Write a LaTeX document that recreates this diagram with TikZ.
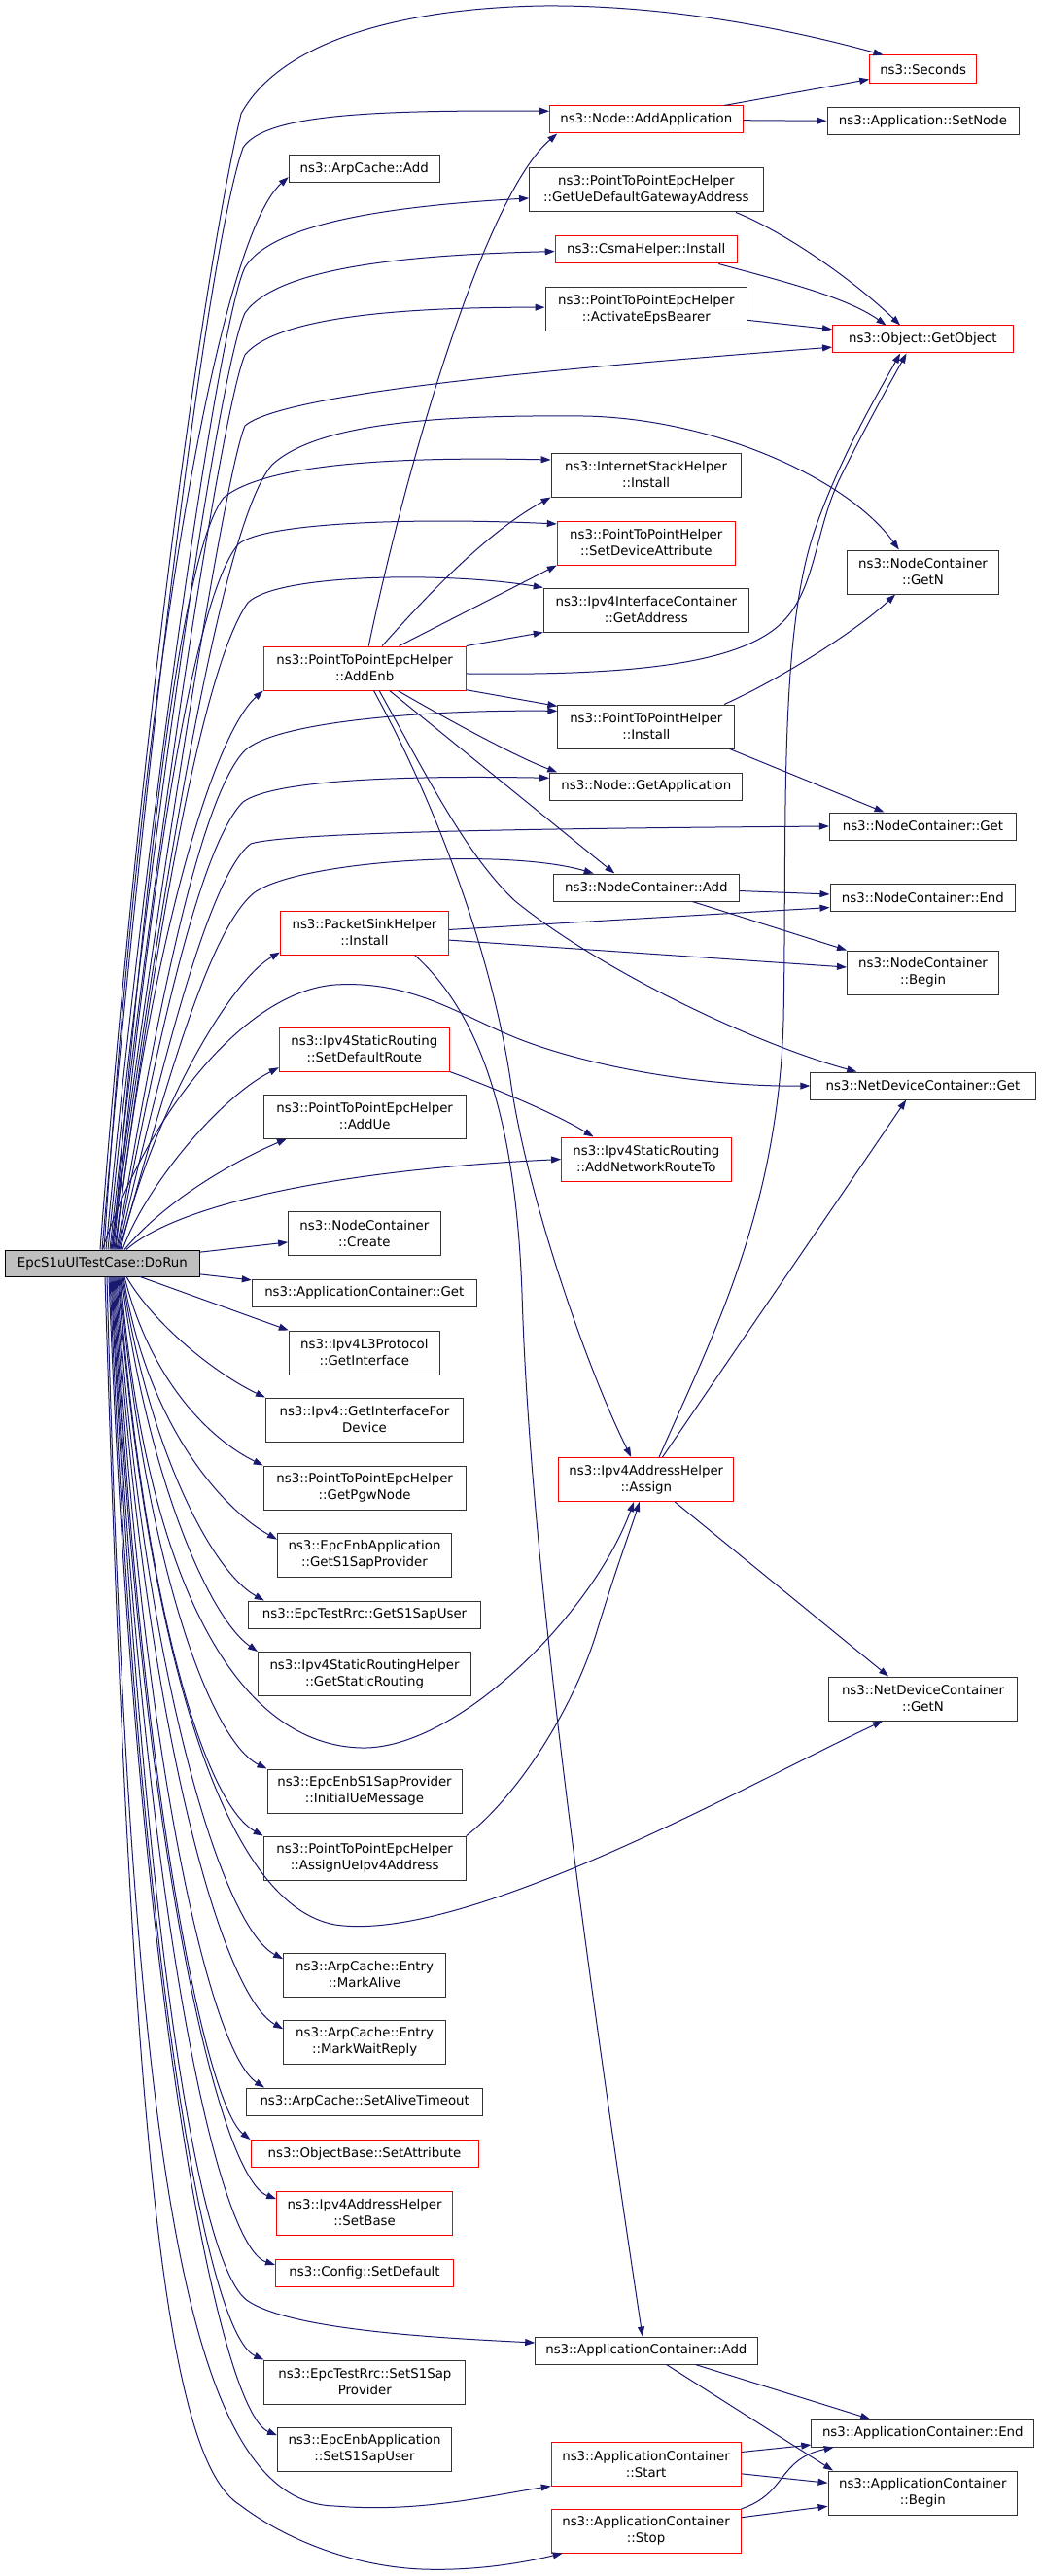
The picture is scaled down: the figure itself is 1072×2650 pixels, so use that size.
\documentclass[tikz,border=0pt]{standalone}
\usepackage{fontspec}
\setmainfont{DejaVu Sans}
\usetikzlibrary{arrows.meta}
\newdimen\pxu \pxu=0.75pt
\definecolor{edgeblue}{HTML}{191970}
\definecolor{rootgray}{HTML}{BFBFBF}
\tikzset{
	fn/.style={draw=black!80, fill=white, line width=0.75pt, minimum height=28\pxu, inner sep=0pt, align=center, font=\fontsize{10}{12.75}\selectfont},
	fntwo/.style={fn, minimum height=45\pxu},
	cut/.style={draw=red},
	call/.style={draw=edgeblue, line width=0.75pt, -{Triangle[length=7.5pt,width=5.2pt]}}
}
\begin{document}
\begin{tikzpicture}[x=0.75pt,y=-0.75pt]
			%%%%% START %%%%%
			\useasboundingbox (0,0) rectangle (1072,2650);
			\fill[white] (0,0) rectangle (1072,2650);
			
			\node[fn, fill=rootgray, draw=black, minimum width=200\pxu, minimum height=27\pxu] (root) at (105.4,1299.5) {EpcS1uUlTestCase::DoRun};
			
			% second column
			\node[fn, minimum width=155\pxu] (arpAdd) at (374.7,174) {ns3::ArpCache::Add};
			\node[fntwo, cut, minimum width=208\pxu] (addEnb) at (375.2,687.5) {ns3::PointToPointEpcHelper\\::AddEnb};
			\node[fntwo, cut, minimum width=173\pxu] (pktSink) at (375,959.5) {ns3::PacketSinkHelper\\::Install};
			\node[fntwo, cut, minimum width=175\pxu] (sdr) at (374.8,1079.5) {ns3::Ipv4StaticRouting\\::SetDefaultRoute};
			\node[fntwo, minimum width=208\pxu] (addUe) at (375.2,1148.5) {ns3::PointToPointEpcHelper\\::AddUe};
			\node[fntwo, minimum width=156.5\pxu] (create) at (374.85,1269) {ns3::NodeContainer\\::Create};
			\node[fn, minimum width=231\pxu] (appGet) at (374.8,1330) {ns3::ApplicationContainer::Get};
			\node[fntwo, minimum width=155\pxu] (getIf) at (374.8,1391.5) {ns3::Ipv4L3Protocol\\::GetInterface};
			\node[fntwo, minimum width=203\pxu] (getIfDev) at (375,1460.5) {ns3::Ipv4::GetInterfaceFor\\Device};
			\node[fntwo, minimum width=208\pxu] (getPgw) at (375.2,1530.5) {ns3::PointToPointEpcHelper\\::GetPgwNode};
			\node[fntwo, minimum width=179\pxu] (getSapProv) at (375,1599.5) {ns3::EpcEnbApplication\\::GetS1SapProvider};
			\node[fn, minimum width=239\pxu] (getSapUser) at (375,1661) {ns3::EpcTestRrc::GetS1SapUser};
			\node[fntwo, minimum width=219\pxu] (getStatic) at (375,1722) {ns3::Ipv4StaticRoutingHelper\\::GetStaticRouting};
			\node[fntwo, minimum width=200\pxu] (initUe) at (375,1842.5) {ns3::EpcEnbS1SapProvider\\::InitialUeMessage};
			\node[fntwo, minimum width=208\pxu] (assignUe) at (375.2,1911.5) {ns3::PointToPointEpcHelper\\::AssignUeIpv4Address};
			\node[fntwo, minimum width=167\pxu] (markAlive) at (375.15,2031.5) {ns3::ArpCache::Entry\\::MarkAlive};
			\node[fntwo, minimum width=167\pxu] (markWait) at (375.15,2100.5) {ns3::ArpCache::Entry\\::MarkWaitReply};
			\node[fn, minimum width=243\pxu] (aliveTo) at (375.2,2162) {ns3::ArpCache::SetAliveTimeout};
			\node[fn, cut, minimum width=234\pxu] (setAttr) at (375,2215.5) {ns3::ObjectBase::SetAttribute};
			\node[fntwo, cut, minimum width=181\pxu] (setBase) at (375.15,2276.5) {ns3::Ipv4AddressHelper\\::SetBase};
			\node[fn, cut, minimum width=183\pxu] (setDef) at (375,2338) {ns3::Config::SetDefault};
			\node[fntwo, minimum width=207\pxu] (setSapProv) at (375.35,2450.5) {ns3::EpcTestRrc::SetS1Sap\\Provider};
			\node[fntwo, minimum width=179\pxu] (setSapUser) at (375,2519.5) {ns3::EpcEnbApplication\\::SetS1SapUser};
			
			% third column
			\node[fn, cut, minimum width=198.5\pxu] (addApp) at (664.8,123) {ns3::Node::AddApplication};
			\node[fntwo, minimum width=240.5\pxu] (ueGw) at (664.8,195.5) {ns3::PointToPointEpcHelper\\::GetUeDefaultGatewayAddress};
			\node[fn, cut, minimum width=187\pxu] (csma) at (664.7,257) {ns3::CsmaHelper::Install};
			\node[fntwo, minimum width=207.6\pxu] (activate) at (664.8,318) {ns3::PointToPointEpcHelper\\::ActivateEpsBearer};
			\node[fntwo, minimum width=195\pxu] (ish) at (664.6,488.5) {ns3::InternetStackHelper\\::Install};
			\node[fntwo, cut, minimum width=183\pxu] (setDev) at (664.8,558.5) {ns3::PointToPointHelper\\::SetDeviceAttribute};
			\node[fntwo, minimum width=211\pxu] (getAddr) at (664.8,627.5) {ns3::Ipv4InterfaceContainer\\::GetAddress};
			\node[fntwo, minimum width=182\pxu] (p2pInst) at (664.85,747.5) {ns3::PointToPointHelper\\::Install};
			\node[fn, minimum width=198.3\pxu] (getApp) at (664.8,809) {ns3::Node::GetApplication};
			\node[fn, minimum width=190.3\pxu] (ncAdd) at (664.85,913) {ns3::NodeContainer::Add};
			\node[fntwo, cut, minimum width=174.4\pxu] (arnt) at (664.8,1192.5) {ns3::Ipv4StaticRouting\\::AddNetworkRouteTo};
			\node[fntwo, cut, minimum width=180\pxu] (assign) at (664.8,1522) {ns3::Ipv4AddressHelper\\::Assign};
			\node[fn, minimum width=228.3\pxu] (appAdd) at (664.85,2418) {ns3::ApplicationContainer::Add};
			\node[fntwo, cut, minimum width=194.8\pxu] (appStart) at (664.6,2534.5) {ns3::ApplicationContainer\\::Start};
			\node[fntwo, cut, minimum width=194.8\pxu] (appStop) at (664.6,2603.5) {ns3::ApplicationContainer\\::Stop};
			
			% fourth column
			\node[fn, cut, minimum width=110\pxu, minimum height=29\pxu] (seconds) at (949.7,71.5) {ns3::Seconds};
			\node[fn, minimum width=197\pxu] (setNode) at (949.5,125) {ns3::Application::SetNode};
			\node[fn, cut, minimum width=185.5\pxu] (getObj) at (949.3,349) {ns3::Object::GetObject};
			\node[fntwo, minimum width=156\pxu] (ncGetN) at (949.5,588.5) {ns3::NodeContainer\\::GetN};
			\node[fn, minimum width=192\pxu] (ncGet) at (949.45,850) {ns3::NodeContainer::Get};
			\node[fn, minimum width=190.8\pxu] (ncEnd) at (949.4,923.5) {ns3::NodeContainer::End};
			\node[fntwo, minimum width=156\pxu] (ncBegin) at (949.5,1000.5) {ns3::NodeContainer\\::Begin};
			\node[fn, minimum width=231.4\pxu] (ndcGet) at (949.5,1117) {ns3::NetDeviceContainer::Get};
			\node[fntwo, minimum width=194\pxu] (ndcGetN) at (949.5,1747.5) {ns3::NetDeviceContainer\\::GetN};
			\node[fn, minimum width=229\pxu] (appEnd) at (949.3,2503) {ns3::ApplicationContainer::End};
			\node[fntwo, minimum width=194.6\pxu] (appBegin) at (949.3,2564.5) {ns3::ApplicationContainer\\::Begin};
			
			% calls of DoRun, upwards
			\draw[call] ([xshift=-2.4\pxu]root.north) .. controls (140,800) and (205,300) .. (248,117) .. controls (290,40) and (420,8) .. (560,6) .. controls (700,5) and (830,35) .. (seconds.160);
			\draw[call] ([xshift=-0.4\pxu]root.north) .. controls (145,820) and (212,260) .. (250,152) .. controls (272,118) and (380,113) .. (addApp.175);
			\draw[call] ([xshift=1.6\pxu]root.north) .. controls (145,700) and (225,245) .. (arpAdd.186);
			\draw[call] ([xshift=3.6\pxu]root.north) .. controls (150,850) and (225,330) .. (252,275) .. controls (280,230) and (400,212) .. (ueGw.184);
			\draw[call] ([xshift=5.6\pxu]root.north) .. controls (152,880) and (225,380) .. (252,322) .. controls (285,275) and (420,262) .. (csma.181);
			\draw[call] ([xshift=7.6\pxu]root.north) .. controls (155,900) and (228,420) .. (252,365) .. controls (285,325) and (420,316) .. (activate.179);
			\draw[call] ([xshift=8.6\pxu]root.north) .. controls (158,950) and (230,490) .. (252,438) .. controls (290,405) and (560,380) .. (getObj.185);
			\draw[call] ([xshift=9.6\pxu]root.north) .. controls (160,960) and (225,540) .. (280,478) .. controls (330,432) and (470,427) .. (600,428) .. controls (730,430) and (870,490) .. (ncGetN.137);
			\draw[call] ([xshift=10.6\pxu]root.north) .. controls (150,900) and (185,570) .. (230,512) .. controls (275,475) and (420,470) .. (ish.171);
			\draw[call] ([xshift=11.6\pxu]root.north) .. controls (150,950) and (195,620) .. (245,560) .. controls (270,538) and (420,532) .. (setDev.168);
			\draw[call] ([xshift=12.6\pxu]root.north) .. controls (155,1000) and (205,690) .. (255,620) .. controls (285,590) and (460,588) .. (getAddr.north west);
			\draw[call] ([xshift=13.6\pxu]root.north) .. controls (150,1000) and (215,760) .. (addEnb.south west);
			\draw[call] ([xshift=14.6\pxu]root.north) .. controls (160,1050) and (205,820) .. (252,772) .. controls (285,742) and (440,730) .. (p2pInst.170);
			\draw[call] ([xshift=15.6\pxu]root.north) .. controls (160,1080) and (205,870) .. (250,825) .. controls (285,800) and (440,798) .. (getApp.175);
			\draw[call] ([xshift=16.6\pxu]root.north) .. controls (165,1100) and (215,900) .. (258,868) .. controls (300,855) and (600,852) .. (ncGet.west);
			\draw[call] ([xshift=17.6\pxu]root.north) .. controls (170,1120) and (215,955) .. (262,918) .. controls (310,885) and (520,872) .. (ncAdd.165);
			\draw[call] ([xshift=18.6\pxu]root.north) .. controls (155,1150) and (235,1010) .. (pktSink.193);
			\draw[call] ([xshift=0\pxu]root.north) .. controls (150,1150) and (250,1020) .. (345,1013) .. controls (430,1008) and (480,1050) .. (545,1073) .. controls (620,1100) and (730,1118) .. (ndcGet.west);
			\draw[call] ([xshift=20.6\pxu]root.north) .. controls (150,1220) and (225,1130) .. (sdr.192);
			\draw[call] ([xshift=22.6\pxu]root.north) .. controls (170,1235) and (240,1195) .. (addUe.196);
			\draw[call] ([xshift=24.6\pxu]root.north) .. controls (175,1245) and (320,1205) .. (arnt.west);
			\draw[call] (root) -- (create);
			\draw[call] (root) -- (appGet);
			\draw[call] (root) -- (getIf.north west);
			
			% calls of DoRun, downwards
			\draw[call] ([xshift=24.6\pxu]root.south) .. controls (160,1365) and (225,1415) .. (getIfDev.north west);
			\draw[call] ([xshift=22.6\pxu]root.south) .. controls (155,1420) and (215,1480) .. (getPgw.north west);
			\draw[call] ([xshift=21.6\pxu]root.south) .. controls (150,1460) and (225,1550) .. (getSapProv.170);
			\draw[call] ([xshift=20.6\pxu]root.south) .. controls (150,1480) and (215,1615) .. (getSapUser.172);
			\draw[call] ([xshift=19.6\pxu]root.south) .. controls (148,1500) and (210,1660) .. (getStatic.north west);
			\draw[call] ([xshift=18.6\pxu]root.south) .. controls (150,1620) and (240,1795) .. (372,1798) .. controls (470,1800) and (610,1660) .. (assign.241);
			\draw[call] ([xshift=17.6\pxu]root.south) .. controls (148,1600) and (215,1790) .. (initUe.north west);
			\draw[call] ([xshift=16.6\pxu]root.south) .. controls (148,1650) and (210,1855) .. (assignUe.north west);
			\draw[call] ([xshift=15.6\pxu]root.south) .. controls (152,1700) and (230,1960) .. (345,1980) .. controls (480,2000) and (780,1830) .. (ndcGetN.209);
			\draw[call] ([xshift=14.6\pxu]root.south) .. controls (145,1700) and (225,1980) .. (markAlive.169);
			\draw[call] ([xshift=13.6\pxu]root.south) .. controls (145,1750) and (225,2050) .. (markWait.171);
			\draw[call] ([xshift=12.6\pxu]root.south) .. controls (145,1800) and (215,2110) .. (aliveTo.172);
			\draw[call] ([xshift=11.6\pxu]root.south) .. controls (145,1850) and (212,2165) .. (setAttr.173);
			\draw[call] ([xshift=10.6\pxu]root.south) .. controls (145,1900) and (225,2240) .. (setBase.171);
			\draw[call] ([xshift=9.6\pxu]root.south) .. controls (145,1950) and (222,2310) .. (setDef.175);
			\draw[call] ([xshift=8.6\pxu]root.south) .. controls (145,1950) and (200,2330) .. (255,2367) .. controls (300,2397) and (450,2405) .. (appAdd.176);
			\draw[call] ([xshift=7.6\pxu]root.south) .. controls (142,2000) and (210,2400) .. (setSapProv.north west);
			\draw[call] ([xshift=6.6\pxu]root.south) .. controls (140,2050) and (225,2480) .. (setSapUser.171);
			\draw[call] ([xshift=4.6\pxu]root.south) .. controls (135,2250) and (195,2575) .. (345,2578) .. controls (430,2585) and (500,2568) .. (appStart.south west);
			\draw[call] ([xshift=2.6\pxu]root.south) .. controls (135,2200) and (170,2530) .. (247,2577) .. controls (290,2610) and (360,2640) .. (434,2643) .. controls (490,2645) and (540,2636) .. (appStop.195);
			
			% the other calls
			\draw[call] (addApp) -- (seconds);
			\draw[call] (addApp) -- (setNode);
			\draw[call] (ueGw.-14) .. controls (810,240) and (880,290) .. (getObj.148);
			\draw[call] (csma.-11) .. controls (800,288) and (870,305) .. (getObj.159);
			\draw[call] (activate) -- (getObj);
			\draw[call] (addEnb.80) .. controls (420,470) and (500,200) .. (addApp.189);
			\draw[call] (addEnb.52) .. controls (440,612) and (500,548) .. (ish.south west);
			\draw[call] (addEnb.33) -- (setDev.south west);
			\draw[call] (addEnb.north east) -- (getAddr.south west);
			\draw[call] (addEnb.-3) .. controls (640,695) and (760,685) .. (805,640) .. controls (840,605) and (838,545) .. (865,490) .. controls (890,440) and (915,395) .. (getObj.221);
			\draw[call] (addEnb.-12) -- (p2pInst.167);
			\draw[call] (addEnb.-34) .. controls (460,740) and (530,778) .. (getApp.171);
			\draw[call] (addEnb.-42) -- (ncAdd.156);
			\draw[call] (addEnb.-57) .. controls (440,800) and (480,880) .. (530,927) .. controls (620,1000) and (780,1075) .. (ndcGet.168);
			\draw[call] (addEnb.-68) .. controls (450,830) and (505,980) .. (525,1110) .. controls (540,1220) and (600,1400) .. (assign.124);
			\draw[call] (p2pInst.16) .. controls (800,700) and (880,650) .. (ncGetN.219);
			\draw[call] (p2pInst.-15) -- (ncGet.160);
			\draw[call] (ncAdd) -- (ncEnd);
			\draw[call] (ncAdd.-17) -- (ncBegin.north west);
			\draw[call] (pktSink.2) -- (ncEnd.186);
			\draw[call] (pktSink.-5) -- (ncBegin.176);
			\draw[call] (pktSink.-24) .. controls (490,1040) and (530,1140) .. (537,1330) .. controls (545,1600) and (600,2000) .. (appAdd.105);
			\draw[call] (sdr.south east) .. controls (510,1120) and (570,1145) .. (arnt.157);
			\draw[call] (assign.60) .. controls (730,1380) and (800,1250) .. (806,1050) .. controls (810,850) and (800,650) .. (840,540) .. controls (865,470) and (900,410) .. (getObj.212);
			\draw[call] (assign.54) -- (ndcGet.220);
			\draw[call] (assign.-38) -- (ndcGetN.147);
			\draw[call] (assignUe.north east) .. controls (530,1850) and (590,1760) .. (615,1675) .. controls (635,1610) and (650,1570) .. (assign.253);
			\draw[call] (appAdd.-16) -- (appEnd.165);
			\draw[call] (appAdd.-35) -- (appBegin.166);
			\draw[call] (appStart.7) -- (appEnd.186);
			\draw[call] (appStart.-6) -- (appBegin.174);
			\draw[call] (appStop.13) .. controls (810,2565) and (800,2530) .. (appEnd.189);
			\draw[call] (appStop.8) -- (appBegin.188);
			%%%%% END %%%%%
\end{tikzpicture}
\end{document}
